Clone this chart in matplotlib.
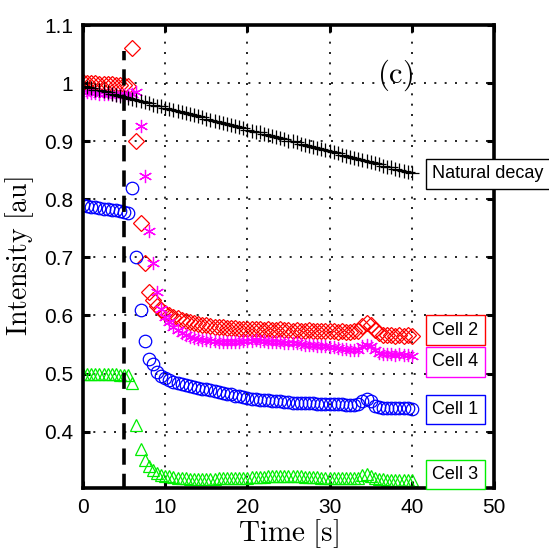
import numpy as np
import matplotlib
matplotlib.use("Agg")
import matplotlib.pyplot as plt
from matplotlib.ticker import FuncFormatter

# FRAP-style intensity traces, sampled every 0.5 s from 0 to 40 s
time_s = np.arange(81) * 0.5
bleach_time = 5.0
bleach_line_top = 1.055

natural_decay = [
    0.995, 0.993, 0.991, 0.989, 0.988, 0.986, 0.984, 0.982, 0.980, 0.978,
    0.976, 0.975, 0.973, 0.971, 0.969, 0.967, 0.965, 0.963, 0.961, 0.960,
    0.958, 0.956, 0.954, 0.952, 0.950, 0.948, 0.946, 0.945, 0.943, 0.941,
    0.939, 0.937, 0.935, 0.933, 0.931, 0.930, 0.928, 0.926, 0.924, 0.922,
    0.920, 0.918, 0.916, 0.915, 0.913, 0.911, 0.909, 0.907, 0.905, 0.903,
    0.901, 0.900, 0.898, 0.896, 0.894, 0.892, 0.890, 0.888, 0.886, 0.885,
    0.883, 0.881, 0.879, 0.877, 0.875, 0.873, 0.871, 0.870, 0.868, 0.866,
    0.864, 0.862, 0.860, 0.858, 0.856, 0.855, 0.853, 0.851, 0.849, 0.847, 0.845,
]
cell2 = [
    1.002, 1.001, 1.000, 1.000, 0.999, 0.999, 0.998, 0.998, 0.997, 0.997, 0.996, 0.995,
    1.060, 0.900, 0.760, 0.690, 0.640, 0.626, 0.617, 0.610, 0.605,
    0.601, 0.598, 0.595, 0.593, 0.591, 0.589, 0.587, 0.586, 0.584, 0.583,
    0.582, 0.581, 0.580, 0.580, 0.579, 0.578, 0.578, 0.577, 0.577, 0.577,
    0.576, 0.577, 0.576, 0.575, 0.576, 0.575, 0.575, 0.576, 0.575, 0.575,
    0.574, 0.575, 0.574, 0.574, 0.575, 0.574, 0.573, 0.574, 0.573, 0.573,
    0.573, 0.572, 0.573, 0.572, 0.572, 0.573, 0.573, 0.582, 0.587, 0.583,
    0.575, 0.569, 0.567, 0.566, 0.567, 0.565, 0.566, 0.565, 0.566, 0.565,
]
cell4 = [
    0.985, 0.984, 0.983, 0.983, 0.982, 0.982, 0.981, 0.981, 0.980, 0.980, 0.979, 0.979,
    0.982, 0.985, 0.926, 0.840, 0.745, 0.690, 0.640, 0.612, 0.597,
    0.588, 0.581, 0.575, 0.570, 0.566, 0.563, 0.561, 0.559, 0.558, 0.557,
    0.556, 0.556, 0.555, 0.555, 0.555, 0.554, 0.555, 0.555, 0.556, 0.556,
    0.556, 0.557, 0.556, 0.556, 0.555, 0.555, 0.554, 0.554, 0.553, 0.553,
    0.552, 0.552, 0.551, 0.550, 0.550, 0.549, 0.548, 0.547, 0.547, 0.546,
    0.545, 0.544, 0.543, 0.542, 0.541, 0.540, 0.541, 0.547, 0.550, 0.548,
    0.540, 0.535, 0.534, 0.533, 0.533, 0.532, 0.533, 0.532, 0.532, 0.531,
]
cell1 = [
    0.790, 0.788, 0.787, 0.786, 0.785, 0.784, 0.783, 0.782, 0.781, 0.780, 0.778, 0.776,
    0.820, 0.700, 0.610, 0.556, 0.525, 0.516, 0.502, 0.496, 0.492,
    0.489, 0.486, 0.484, 0.482, 0.480, 0.478, 0.477, 0.476, 0.474, 0.473,
    0.471, 0.470, 0.468, 0.467, 0.465, 0.464, 0.462, 0.461, 0.459, 0.458,
    0.457, 0.456, 0.455, 0.455, 0.454, 0.453, 0.452, 0.452, 0.451, 0.451,
    0.450, 0.450, 0.450, 0.449, 0.449, 0.449, 0.448, 0.448, 0.448, 0.448,
    0.447, 0.447, 0.447, 0.446, 0.446, 0.446, 0.447, 0.453, 0.456, 0.452,
    0.444, 0.442, 0.441, 0.441, 0.440, 0.440, 0.441, 0.440, 0.440, 0.439,
]
cell3 = [
    0.500, 0.500, 0.500, 0.500, 0.500, 0.499, 0.499, 0.499, 0.499, 0.498, 0.498, 0.497,
    0.483, 0.411, 0.370, 0.352, 0.341, 0.334, 0.329, 0.326, 0.324,
    0.323, 0.322, 0.321, 0.320, 0.320, 0.319, 0.319, 0.319, 0.319, 0.319,
    0.319, 0.319, 0.320, 0.320, 0.320, 0.320, 0.321, 0.321, 0.321, 0.321,
    0.322, 0.322, 0.322, 0.322, 0.323, 0.323, 0.323, 0.323, 0.323, 0.323,
    0.323, 0.323, 0.323, 0.322, 0.322, 0.322, 0.322, 0.321, 0.321, 0.321,
    0.321, 0.320, 0.320, 0.320, 0.320, 0.320, 0.321, 0.325, 0.327, 0.324,
    0.320, 0.318, 0.318, 0.317, 0.317, 0.317, 0.316, 0.316, 0.316, 0.316,
]

# name, values, colour, marker, marker size, label height
series = [
    ("Cell 2", cell2, "#FF0000", "D", 8.5, 0.575),
    ("Cell 4", cell4, "#FF00FF", (6, 2, 0), 9.5, 0.520),
    ("Cell 1", cell1, "#0000FF", "o", 9, 0.438),
    ("Cell 3", cell3, "#00EE00", "^", 9, 0.326),
    ("Natural decay", natural_decay, "#000000", "+", 9.5, 0.844),
]

plt.rcParams["mathtext.fontset"] = "cm"
sans = ["Liberation Sans", "DejaVu Sans"]

fig = plt.figure(figsize=(5.49, 5.50), dpi=100)
ax = fig.add_axes([0.1512, 0.1127, 0.7486, 0.8418])

ax.grid(True, color="black", linestyle=(0, (1.2, 5)), linewidth=1.2)
ax.set_axisbelow(True)

for name, vals, col, mk, ms, _ in series:
    ax.plot(time_s, vals, linestyle="none", marker=mk, markersize=ms,
            markerfacecolor="none", markeredgecolor=col, markeredgewidth=0.9,
            zorder=3)

ax.plot([bleach_time, bleach_time], [0.3, bleach_line_top], color="black",
        linestyle=(0, (4.5, 2.5)), linewidth=2.6, zorder=4)

# boxed labels at the end of each trace
for name, vals, col, mk, ms, ylab in series:
    ax.text(42.5, ylab, name, ha="left", va="center", fontsize=13,
            family=sans, color="black", zorder=6, clip_on=False,
            bbox=dict(boxstyle="square,pad=0.35", facecolor="white",
                      edgecolor=col, linewidth=1.0))

ax.text(38.0, 1.014, r"$\mathrm{(c)}$", ha="center", va="center", fontsize=22)

ax.set_xlim(0, 50)
ax.set_ylim(0.303, 1.1)
ax.set_xticks([0, 10, 20, 30, 40, 50])
ax.set_yticks([0.4, 0.5, 0.6, 0.7, 0.8, 0.9, 1.0, 1.1])
ax.yaxis.set_major_formatter(FuncFormatter(lambda v, p: f"{v:g}"))
ax.tick_params(direction="in", length=5, width=2.2, top=True, right=True,
               labelsize=15, pad=7)
for lab in ax.get_xticklabels() + ax.get_yticklabels():
    lab.set_family(sans)
for sp in ax.spines.values():
    sp.set_linewidth(2.6)
    sp.set_zorder(5)

ax.set_xlabel(r"$\mathrm{Time\ [s]}$", fontsize=21, labelpad=0)
ax.set_ylabel(r"$\mathrm{Intensity\ [au]}$", fontsize=20, labelpad=6)

fig.savefig("out.png", dpi=100)
